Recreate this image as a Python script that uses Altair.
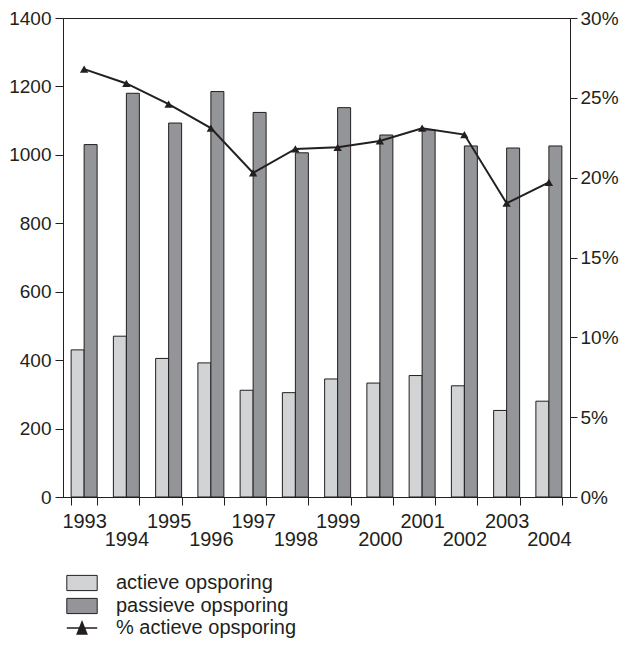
import altair as alt
import pandas as pd

years = [str(y) for y in range(1993, 2005)]
actieve = [430, 470, 405, 392, 312, 305, 345, 333, 355, 325, 253, 280]
passieve = [1030, 1180, 1093, 1185, 1124, 1006, 1138, 1058, 1073, 1026, 1020, 1026]
pct = [26.8, 25.9, 24.6, 23.1, 20.3, 21.8, 21.9, 22.3, 23.1, 22.7, 18.4, 19.7]
series_names = ["actieve opsporing", "passieve opsporing"]
line_name = "% actieve opsporing"
left_ticks = [0, 200, 400, 600, 800, 1000, 1200, 1400]
right_ticks = [0, 0.05, 0.10, 0.15, 0.20, 0.25, 0.30]

FONT = "Liberation Sans"
INK = "#231f20"

bars_df = pd.DataFrame(
    [{"year": y, "series": series_names[0], "value": a} for y, a in zip(years, actieve)]
    + [{"year": y, "series": series_names[1], "value": p} for y, p in zip(years, passieve)]
)
line_df = pd.DataFrame({"year": years, "pct": [p / 100 for p in pct], "lbl": line_name})

x_enc = alt.X(
    "year:N",
    sort=years,
    scale=alt.Scale(paddingInner=0.385, paddingOuter=0.1925),
    axis=alt.Axis(
        title=None, orient="bottom", tickBand="extent", tickSize=8, labelPadding=6,
        labelAngle=0, labelBaseline="top", labelFontSize=20, labelFont=FONT,
        labelColor=INK, tickColor=INK, domainColor=INK, labelLineHeight=18,
        labelExpr="toNumber(datum.value) % 2 == 0 ? ['', datum.label] : datum.label",
    ),
)

bars = alt.Chart(bars_df).mark_bar(stroke=INK, strokeWidth=1).encode(
    x=x_enc,
    xOffset=alt.XOffset("series:N", sort=series_names,
                        scale=alt.Scale(paddingInner=0, paddingOuter=0)),
    y=alt.Y("value:Q", scale=alt.Scale(domain=[0, 1400], nice=False),
            axis=alt.Axis(title=None, values=left_ticks, format="d", tickSize=8,
                          labelPadding=4, labelFontSize=19, labelFont=FONT,
                          labelColor=INK, tickColor=INK, domainColor=INK, grid=False)),
    fill=alt.Fill("series:N",
                  scale=alt.Scale(domain=series_names, range=["#d1d3d4", "#939598"]),
                  legend=alt.Legend(title=None, orient="none", legendX=9, legendY=555,
                                    direction="vertical",
                                    symbolType="M-1.9,-0.95H1.9V0.95H-1.9Z",
                                    symbolSize=256, symbolStrokeColor=INK,
                                    symbolStrokeWidth=1, labelFontSize=20,
                                    labelFont=FONT, labelColor=INK, labelOffset=24,
                                    labelLimit=400, rowPadding=3, padding=0)),
)

y_right = alt.Y("pct:Q", scale=alt.Scale(domain=[0, 0.30], nice=False),
                axis=alt.Axis(title=None, orient="right", values=right_ticks,
                              format=".0%", tickSize=7, labelPadding=3,
                              labelFontSize=19, labelFont=FONT, labelColor=INK,
                              tickColor=INK, domainColor=INK, grid=False))

line = alt.Chart(line_df).mark_line(strokeWidth=2).encode(
    x=alt.X("year:N", sort=years),
    y=y_right,
    stroke=alt.Stroke("lbl:N", scale=alt.Scale(domain=[line_name], range=[INK]),
                      legend=alt.Legend(title=None, orient="none", legendX=9, legendY=600,
                                        symbolType="M-1.9,0H1.9M-0.6,0.75L0,-0.75L0.6,0.75Z",
                                        symbolSize=256, symbolFillColor=INK,
                                        symbolStrokeWidth=1.5, labelFontSize=20,
                                        labelFont=FONT, labelColor=INK, labelOffset=24,
                                        labelLimit=400, padding=0)),
)

points = alt.Chart(line_df).mark_point(shape="triangle-up", filled=True, size=70,
                                       color=INK, opacity=1).encode(
    x=alt.X("year:N", sort=years),
    y=alt.Y("pct:Q"),
)

right = alt.layer(line, points)

chart = alt.layer(bars, right).resolve_scale(y="independent").properties(
    width=507, height=479,
    autosize=alt.AutoSizeParams(type="none"),
    padding={"left": 55, "top": 10, "right": 49, "bottom": 144},
).configure_view(stroke=INK, strokeWidth=1)

chart.save("out.html", embed_options={"renderer": "svg", "actions": False})
